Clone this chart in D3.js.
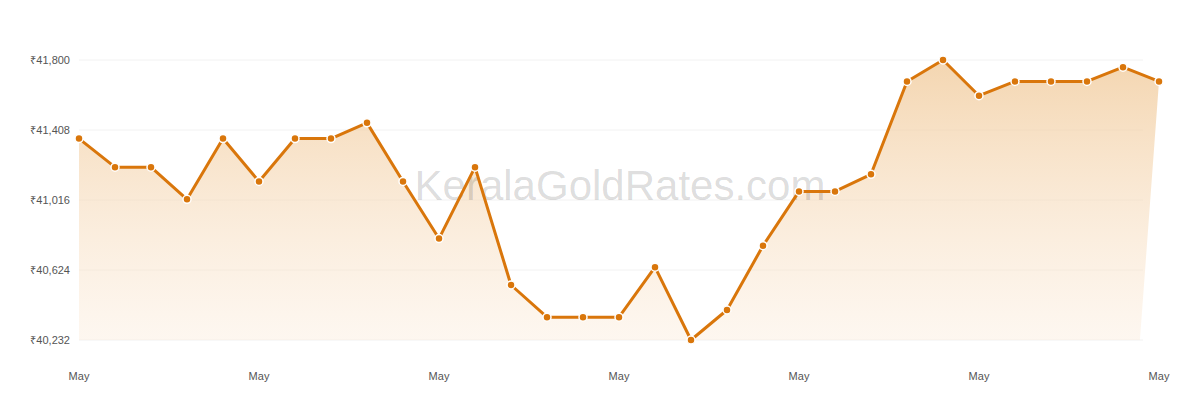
<!DOCTYPE html><html><head><meta charset="utf-8">
<script src="https://cdn.jsdelivr.net/npm/d3@7"></script>
<style>body{margin:0;background:#fff}</style></head><body><svg id="c" width="1200" height="400"></svg>
<script>
const values=[41360,41200,41200,41020,41360,41120,41360,41360,41448,41120,40800,41200,40540,40360,40360,40360,40640,40232,40400,40760,41064,41064,41160,41680,41800,41600,41680,41680,41680,41760,41680];
const yTicks=[40232,40624,41016,41408,41800];
const xLabelIdx=[0,5,10,15,20,25,30];
const xLabel="May";
const svg=d3.select("#c");
const x=d3.scaleLinear().domain([0,values.length-1]).range([79,1159]);
const y=d3.scaleLinear().domain([40232,41800]).range([340,60]);
const defs=svg.append("defs");
const g=defs.append("linearGradient").attr("id","gr").attr("x1",0).attr("x2",0).attr("y1",0).attr("y2",1);
g.append("stop").attr("offset","0%").attr("stop-color","#f0c896").attr("stop-opacity",0.75);
g.append("stop").attr("offset","100%").attr("stop-color","#fbe8d4").attr("stop-opacity",0.35);
svg.append("g").selectAll("line").data(yTicks).join("line").attr("x1",79).attr("x2",1143).attr("y1",d=>y(d)).attr("y2",d=>y(d)).attr("stroke","#f2f2f2");
svg.append("g").selectAll("text").data(yTicks).join("text").attr("x",70).attr("y",d=>y(d)+4).attr("text-anchor","end").attr("font-family","Liberation Sans, Arial").attr("font-size",11).attr("fill","#555").text(d=>"₹"+d3.format(",")(d));
svg.append("g").selectAll("text").data(xLabelIdx).join("text").attr("x",d=>x(d)).attr("y",380).attr("text-anchor","middle").attr("font-family","Liberation Sans, Arial").attr("font-size",11).attr("fill","#555").text(xLabel);
const pts=values.map((v,i)=>[x(i),y(v)]);
const areaPts=pts.concat([[x(values.length-1.53),y(40232)],[x(0),y(40232)]]);
svg.append("path").attr("d","M"+areaPts.map(p=>p.join(",")).join("L")+"Z").attr("fill","url(#gr)");
svg.append("text").attr("x",620).attr("y",200).attr("text-anchor","middle").attr("font-family","Liberation Sans, Arial").attr("font-size",42).attr("fill","#000").attr("fill-opacity",0.15).text("KeralaGoldRates.com");
svg.append("path").attr("d",d3.line().x((d,i)=>x(i)).y(d=>y(d))(values)).attr("fill","none").attr("stroke","#d9760b").attr("stroke-width",3).attr("stroke-linejoin","round");
svg.append("g").selectAll("circle").data(values).join("circle").attr("cx",(d,i)=>x(i)).attr("cy",d=>y(d)).attr("r",4).attr("fill","#d9760b").attr("stroke","#fff").attr("stroke-width",1.5);
</script></body></html>
